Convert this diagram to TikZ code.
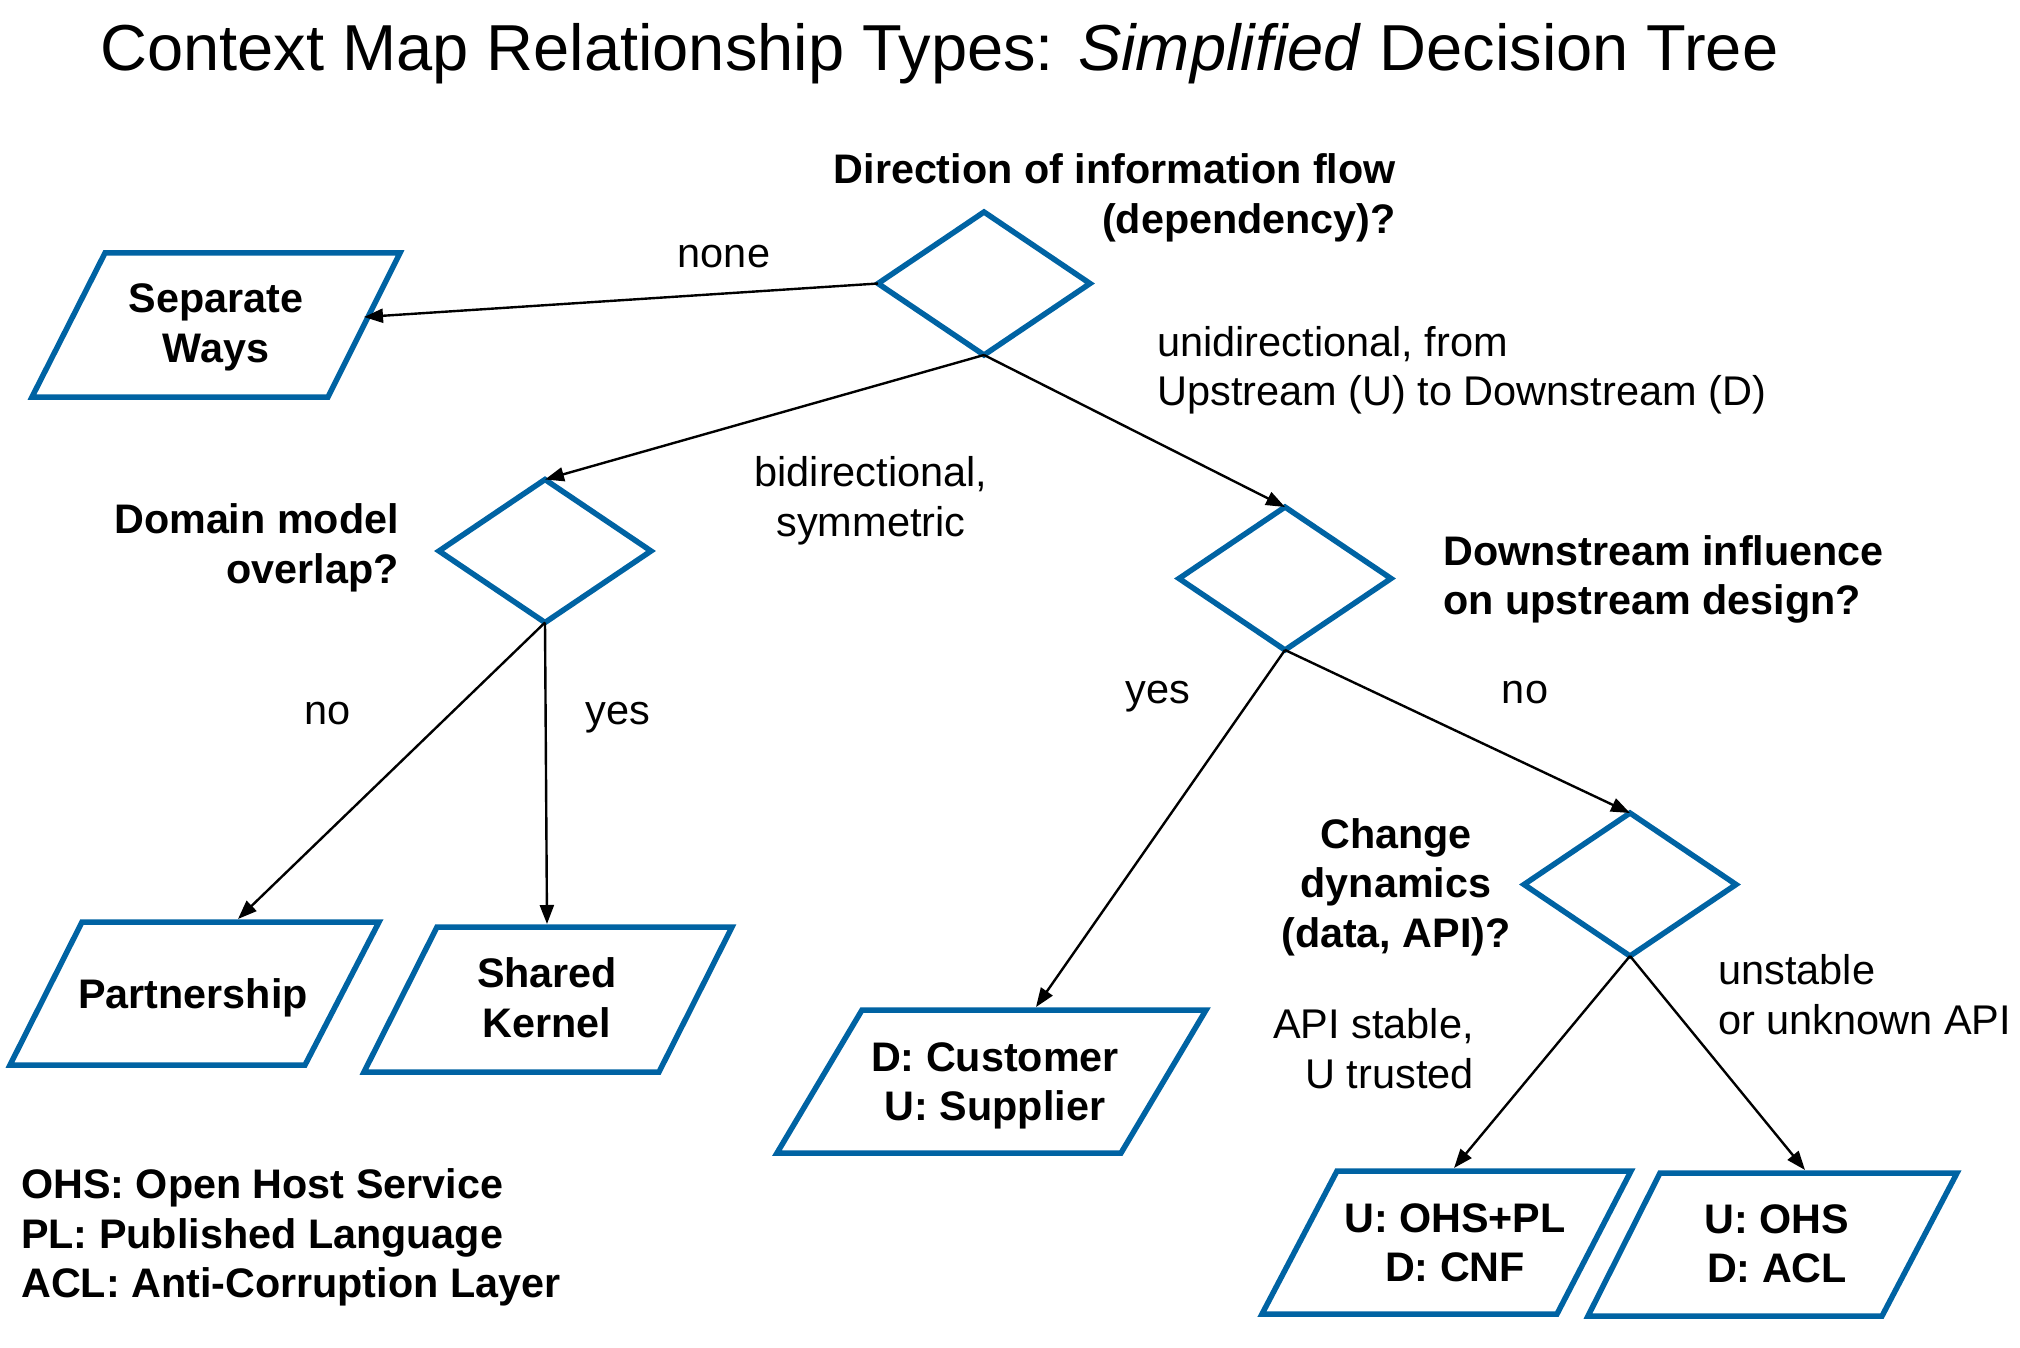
\documentclass[tikz,border=0pt]{standalone}
\usepackage{fontspec}
\setmainfont{Liberation Sans}
\usetikzlibrary{arrows.meta,shapes.geometric}
\definecolor{boxblue}{RGB}{0,99,163}
\begin{document}
\begin{tikzpicture}[x=1pt,y=-1pt,
  dia/.style={diamond,draw=boxblue,line width=5.5pt,minimum width=212pt,minimum height=143pt,inner sep=0pt,outer sep=0pt},
  parabox/.style={draw=boxblue,line width=5.5pt,line join=miter},
  btxt/.style={font=\fontsize{41.3}{49.5}\selectfont\bfseries,align=center,inner sep=0pt},
  lbl/.style={font=\fontsize{41.5}{49.5}\selectfont,inner sep=0pt},
  arr/.style={line width=2.4pt,-{Triangle[length=19pt,width=14pt]}}]
\useasboundingbox (0,0) rectangle (2020,1348);

% title
\node[anchor=base west,inner sep=0pt,font=\fontsize{65}{70}\selectfont] (title) at (100,71)
  {Context Map Relationship Types: \textit{Simplified} Decision Tree};

% decision diamonds
\node[dia] (d1) at (984,283.5) {};
\node[dia] (d2) at (545,551) {};
\node[dia] (d3) at (1285,578.5) {};
\node[dia] (d4) at (1630,884.5) {};

% questions
\node[btxt,align=right,anchor=east] (q1) at (1396,198) {Direction of information flow\\(dependency)?};
\node[btxt,align=right,anchor=east] (q2) at (399,548) {Domain model\\overlap?};
\node[btxt,align=left,anchor=west] (q3) at (1443,579.5) {Downstream influence\\on upstream design?};
\node[btxt] (q4) at (1396,887) {Change\\dynamics\\(data, API)?};

% result boxes
\draw[parabox] (105,253) -- (400,253) -- (328,397) -- (32,397) -- cycle;
\node[btxt] (sw) at (216,327.5) {Separate\\Ways};
\draw[parabox] (82,922) -- (379,922) -- (305,1065) -- (10,1065) -- cycle;
\node[btxt,anchor=base] (pa) at (193,1008.5) {Partnership};
\draw[parabox] (437,927) -- (732,927) -- (659,1072) -- (364,1072) -- cycle;
\node[btxt] (sk) at (547,997.5) {Shared\\Kernel};
\draw[parabox] (862,1010) -- (1206,1010) -- (1121,1153) -- (777,1153) -- cycle;
\node[btxt] (cs) at (995,1086) {D: Customer\\U: Supplier};
\draw[parabox] (1337,1171) -- (1631,1171) -- (1557,1314) -- (1262,1314) -- cycle;
\node[btxt] (cnf) at (1455,1243) {U: OHS+PL\\D: CNF};
\draw[parabox] (1660,1173) -- (1957,1173) -- (1882,1316) -- (1588,1316) -- cycle;
\node[btxt] (acl) at (1777,1244) {U: OHS\\D: ACL};

% arrow end points on the boxes
\coordinate (sw-in) at (364,317);
\coordinate (pa-in) at (238,919);
\coordinate (sk-in) at (547,924);
\coordinate (cs-in) at (1036,1007);
\coordinate (cnf-in) at (1454,1168);
\coordinate (acl-in) at (1805,1170);

% connectors
\draw[arr] (d1.west) -- (sw-in);
\draw[arr] (d1.south) -- (d2.north);
\draw[arr] (d1.south) -- (d3.north);
\draw[arr] (d2.south) -- (pa-in);
\draw[arr] (d2.south) -- (sk-in);
\draw[arr] (d3.south) -- (cs-in);
\draw[arr] (d3.south) -- (d4.north);
\draw[arr] (d4.south) -- (cnf-in);
\draw[arr] (d4.south) -- (acl-in);

% connector labels
\node[lbl,anchor=base] (l-none) at (724,268) {none};
\node[lbl,align=left,anchor=west] (l-uni) at (1157,370.5) {unidirectional, from\\Upstream (U) to Downstream (D)};
\node[lbl,align=center] (l-bi) at (871,501) {bidirectional,\\symmetric};
\node[lbl,anchor=base] (l-no1) at (328,724.5) {no};
\node[lbl,anchor=base] (l-yes1) at (618,724.5) {yes};
\node[lbl,anchor=base] (l-yes2) at (1158,703.5) {yes};
\node[lbl,anchor=base] (l-no2) at (1525,703.5) {no};
\node[lbl,align=right,anchor=east] (l-api) at (1474,1048.5) {API stable,\\U trusted};
\node[lbl,align=left,anchor=west] (l-uns) at (1718,994.5) {unstable\\or unknown API};

% legend
\node[btxt,align=left,anchor=west] (legend) at (21,1237.5) {OHS: Open Host Service\\PL: Published Language\\ACL: Anti-Corruption Layer};
\end{tikzpicture}
\end{document}
